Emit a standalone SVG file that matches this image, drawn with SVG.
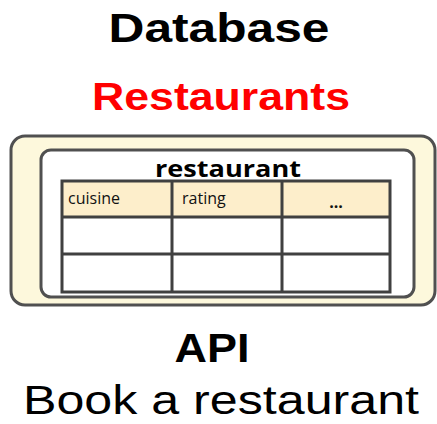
<svg xmlns="http://www.w3.org/2000/svg" width="437" height="424" viewBox="0 0 437 424">
  <style>
    .title { font-family: "Liberation Sans", "DejaVu Sans", sans-serif; font-weight: bold; text-anchor: middle; }
    .frame { stroke: #505050; stroke-width: 3; }
    .grid { stroke: #404040; stroke-width: 3; fill: none; }
    .cell { font-family: "Open Sans", "Noto Sans", sans-serif; font-size: 16px; fill: #111; }
  </style>
  <rect width="437" height="424" fill="#ffffff"/>

  <g id="heading">
    <text class="title" x="219" y="42" font-size="40" fill="#000" textLength="221" lengthAdjust="spacingAndGlyphs">Database</text>
    <text class="title" x="221" y="110" font-size="39" fill="#ff0000" textLength="258" lengthAdjust="spacingAndGlyphs">Restaurants</text>
  </g>

  <g id="database">
    <rect class="frame" x="11" y="136" width="424" height="169" rx="14" fill="#fdf8dc"/>
  </g>

  <g id="restaurant-table">
    <rect class="frame" x="41" y="150" width="373" height="147" rx="10" fill="#ffffff"/>
    <text x="228" y="177" font-family="'Open Sans', 'Noto Sans', sans-serif" font-weight="bold" font-size="24" text-anchor="middle" fill="#000" textLength="146" lengthAdjust="spacingAndGlyphs">restaurant</text>
    <rect x="62" y="181" width="328" height="36" fill="#fdeecb"/>
    <rect class="grid" x="62" y="181" width="328" height="111"/>
    <path class="grid" d="M62 217H390M62 254H390M172 181V292M282 181V292"/>
    <text class="cell" x="68" y="204">cuisine</text>
    <text class="cell" x="182" y="204">rating</text>
    <text class="cell" x="336" y="208" text-anchor="middle" font-weight="bold">...</text>
  </g>

  <g id="api">
    <text class="title" x="212" y="362" font-size="41" fill="#000" textLength="75" lengthAdjust="spacingAndGlyphs">API</text>
    <text x="221" y="414" font-family="'Liberation Sans', 'DejaVu Sans', sans-serif" font-size="40" text-anchor="middle" fill="#000" textLength="396" lengthAdjust="spacingAndGlyphs">Book a restaurant</text>
  </g>
</svg>
